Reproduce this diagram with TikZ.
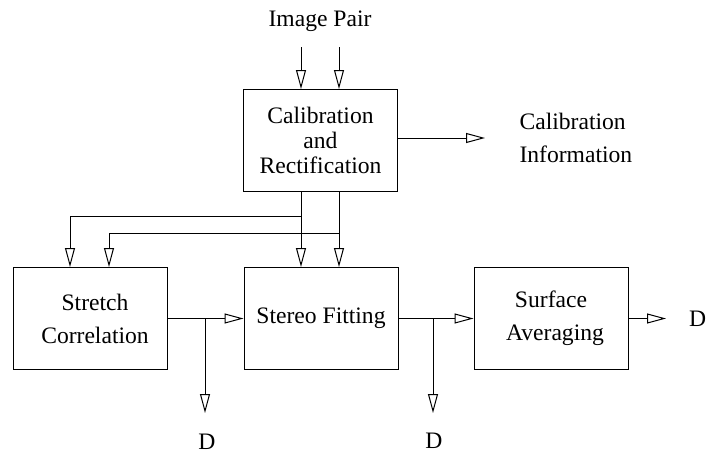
\documentclass[tikz,border=0pt]{standalone}
\usepackage{fontspec}
\setmainfont{Liberation Serif}
\usetikzlibrary{arrows.meta}
\begin{document}
\begin{tikzpicture}[x=1pt,y=-1pt,
  every node/.style={font=\fontsize{23.6}{25}\selectfont},
  twoline/.style={font=\fontsize{23.6}{33}\selectfont},
  blockbox/.style={draw, line width=1pt, minimum width=154pt, minimum height=102pt,
    align=center, inner sep=0pt},
  flow/.style={line width=1pt, -{Triangle[open,length=19pt,width=10pt,line width=1pt]}},
  wire/.style={line width=1pt}]
\useasboundingbox (0,0) rectangle (707,455);

% processing blocks
\node[blockbox] (cal) at (320.5,140.5) {Calibration\\and\\Rectification};
\node[blockbox, twoline] (sc) at (90,318.5) {\hspace*{10pt}Stretch\\\hspace*{10pt}Correlation};
\node[blockbox] (sf) at (321,318.5) {\raisebox{-4pt}{Stereo Fitting}};
\node[blockbox, twoline] (sa) at (551,318.5) {Surface\\\hspace*{8pt}Averaging};

% labels
\node[anchor=base] (pair) at (320,27) {Image Pair};
\node[anchor=west, align=left, twoline] (info) at (516,138) {Calibration\\Information};
\node[anchor=base, inner sep=1pt] (dsc) at (207,449) {D};
\node[anchor=base, inner sep=1pt] (dsf) at (434,448) {D};
\node[anchor=base west, inner sep=1pt] (dsa) at (688,326) {D};

% free ends and junctions
\coordinate (in1) at (301,47);
\coordinate (in2) at (339,47);
\coordinate (infotip) at (485,138);
\coordinate (j1) at (301,216);
\coordinate (j2) at (339,233);
\coordinate (sc1) at (70,216);
\coordinate (sc2) at (109,233);
\coordinate (b1) at (205,318.5);
\coordinate (d1) at (205,413);
\coordinate (b2) at (433,318.5);
\coordinate (d2) at (433,413);
\coordinate (dout) at (666,318.5);

% image pair into calibration
\draw[flow] (in1) -- (in1 |- cal.north);
\draw[flow] (in2) -- (in2 |- cal.north);
% calibration information out
\draw[flow] (cal.east |- infotip) -- (infotip);
% rectified images down to stereo fitting
\draw[flow] (in1 |- cal.south) -- (in1 |- sf.north);
\draw[flow] (in2 |- cal.south) -- (in2 |- sf.north);
% and across to stretch correlation
\draw[flow] (j1) -- (sc1) -- (sc1 |- sc.north);
\draw[flow] (j2) -- (sc2) -- (sc2 |- sc.north);
% main chain
\draw[flow] (sc.east) -- (sf.west);
\draw[flow] (b1) -- (d1);
\draw[flow] (sf.east) -- (sa.west);
\draw[flow] (b2) -- (d2);
\draw[flow] (sa.east) -- (dout);
\end{tikzpicture}
\end{document}
